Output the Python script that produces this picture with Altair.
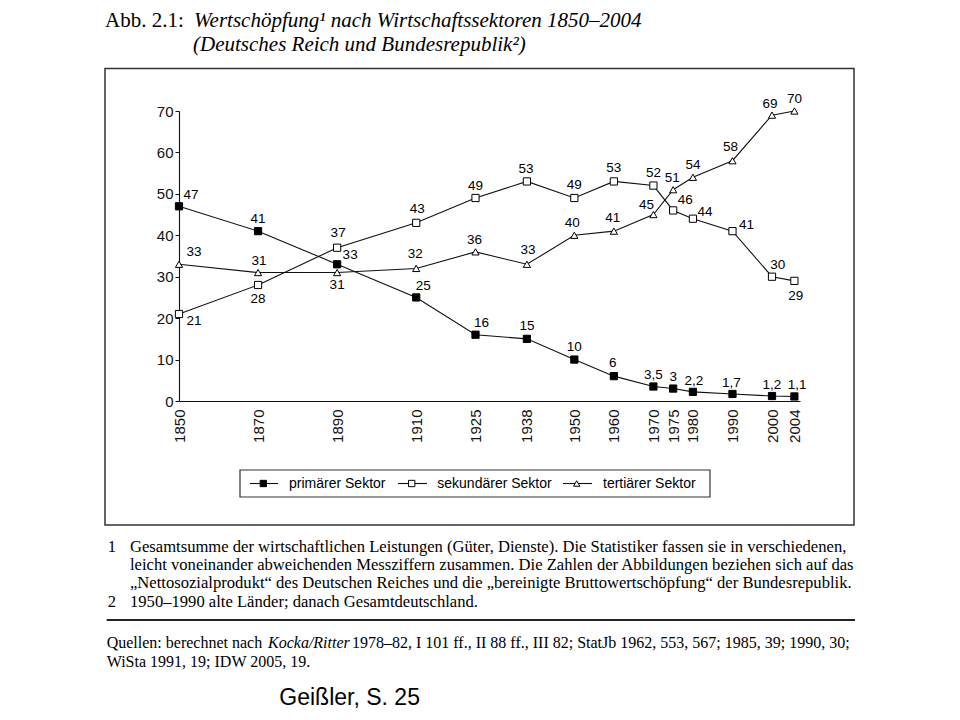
import altair as alt
import pandas as pd

# ---------------- data ----------------
years = [1850, 1870, 1890, 1910, 1925, 1938, 1950, 1960, 1970, 1975, 1980, 1990, 2000, 2004]
primaer = [47, 41, 33, 25, 16, 15, 10, 6, 3.5, 3, 2.2, 1.7, 1.2, 1.1]
sekundaer = [21, 28, 37, 43, 49, 53, 49, 53, 52, 46, 44, 41, 30, 29]
tertiaer = [33, 31, 31, 32, 36, 33, 40, 41, 45, 51, 54, 58, 69, 70]
sectors = ["primärer Sektor", "sekundärer Sektor", "tertiärer Sektor"]
y_ticks = [0, 10, 20, 30, 40, 50, 60, 70]

# label placement (pixel offsets of each value label from its point)
off_primaer = [(12, -11), (0, -12), (13, -9), (7, -11), (6, -12), (0, -13), (0, -13),
               (-1, -13), (0, -12), (0, -12), (1, -11), (-1, -11), (0, -11), (2, -11)]
off_sekundaer = [(15, 7), (0, 14), (1, -15), (1, -14), (0, -12), (-1, -12), (0, -13),
                 (0, -13), (0, -13), (12, -10), (12, -7), (14, -6), (4, -12), (1, 15)]
off_tertiaer = [(15, -12), (1, -12), (0, 12), (-1, -14), (-1, -12), (1, -14), (-2, -12),
                (-1, -13), (-7, -10), (-1, -12), (0, -12), (-2, -14), (-2, -11), (0, -12)]

W, H = 621, 290
# the original's time axis is stretched slightly after 2000
X_DOM = [1850, 2000, 2005]
X_RNG = [0, 593, 621]
Y_DOM = [0, 70]


def fmt(v):
    return str(int(v)) if float(v).is_integer() else str(v).replace(".", ",")


rows = []
for name, vals, offs in zip(sectors, [primaer, sekundaer, tertiaer],
                            [off_primaer, off_sekundaer, off_tertiaer]):
    for yr, v, (dx, dy) in zip(years, vals, offs):
        rows.append({"sector": name, "year": yr, "value": v, "label": fmt(v),
                     "dx": dx, "dy": dy})
df = pd.DataFrame(rows)

SANS = "Liberation Sans"
SERIF = "Liberation Serif"
INK = "#111111"

x_enc = alt.X("year:Q", scale=alt.Scale(domain=X_DOM, range=X_RNG, nice=False, zero=False),
              axis=alt.Axis(values=years, labelAngle=270, ticks=False, title=None,
                            labelFontSize=15, labelPadding=8, grid=False,
                            labelFlush=False, labelOverlap=False, format="d"))
y_enc = alt.Y("value:Q", scale=alt.Scale(domain=Y_DOM, nice=False),
              axis=alt.Axis(values=y_ticks, title=None, labelFontSize=15, tickSize=4,
                            labelPadding=2, grid=False, labelFlush=False))

base = alt.Chart(df)
lines = base.mark_line(color=INK, strokeWidth=1.1).encode(x=x_enc, y=y_enc, detail="sector:N")
points = base.mark_point(filled=True, stroke="black", strokeWidth=1, opacity=1, size=52).encode(
    x="year:Q", y="value:Q",
    fill=alt.Fill("sector:N", scale=alt.Scale(domain=sectors, range=["black", "white", "white"]), legend=None),
    shape=alt.Shape("sector:N", scale=alt.Scale(domain=sectors, range=["square", "square", "triangle-up"]), legend=None),
)
xk = (X_DOM[1] - X_DOM[0]) / (X_RNG[1] - X_RNG[0])
yk = (Y_DOM[1] - Y_DOM[0]) / H
labels = base.transform_calculate(
    lx=f"datum.year + datum.dx * {xk}",
    ly=f"datum.value - datum.dy * {yk}",
).mark_text(font=SANS, fontSize=13.5, color="black", baseline="middle").encode(
    x="lx:Q", y="ly:Q", text="label:N",
)

one = pd.DataFrame({"a": [0]})

# frame around the figure
frame = alt.Chart(one).mark_rect(fill="transparent", stroke="#333", strokeWidth=1.5).encode(
    x=alt.value(-74), x2=alt.value(675), y=alt.value(-42.5), y2=alt.value(414))

# legend box
leg_box = alt.Chart(one).mark_rect(fill="transparent", stroke="#333", strokeWidth=1.2).encode(
    x=alt.value(61), x2=alt.value(531), y=alt.value(359), y2=alt.value(386))
leg = pd.DataFrame({
    "sector": sectors,
    "x1": [71, 219, 384], "x2": [99, 248, 413], "xm": [84.3, 232.7, 397.7],
    "xt": [110, 258.3, 424], "yy": [372.5, 372.5, 372.5],
})
leg_rules = alt.Chart(leg).mark_rule(color=INK, strokeWidth=1.1).encode(
    x=alt.X("x1:Q", scale=None), x2="x2:Q", y=alt.Y("yy:Q", scale=None))
leg_pts = alt.Chart(leg).mark_point(filled=True, stroke="black", strokeWidth=1, opacity=1, size=40).encode(
    x=alt.X("xm:Q", scale=None), y=alt.Y("yy:Q", scale=None),
    fill=alt.Fill("sector:N", scale=alt.Scale(domain=sectors, range=["black", "white", "white"]), legend=None),
    shape=alt.Shape("sector:N", scale=alt.Scale(domain=sectors, range=["square", "square", "triangle-up"]), legend=None),
)
leg_txt = alt.Chart(leg).mark_text(font=SANS, fontSize=14, color="black", align="left", baseline="middle").encode(
    x=alt.X("xt:Q", scale=None), y=alt.Y("yy:Q", scale=None), text="sector:N")

# title and notes (pixel positions relative to plot origin)
serif_plain = pd.DataFrame({
    "text": ["Abb. 2.1:", "1", "2",
             "Gesamtsumme der wirtschaftlichen Leistungen (Güter, Dienste). Die Statistiker fassen sie in verschiedenen,",
             "leicht voneinander abweichenden Messziffern zusammen. Die Zahlen der Abbildungen beziehen sich auf das",
             "„Nettosozialprodukt“ des Deutschen Reiches und die „bereinigte Bruttowertschöpfung“ der Bundesrepublik.",
             "1950–1990 alte Länder; danach Gesamtdeutschland.",
             "Quellen: berechnet nach",
             "1978–82, I 101 ff., II 88 ff., III 82; StatJb 1962, 553, 567; 1985, 39; 1990, 30;",
             "WiSta 1991, 19; IDW 2005, 19."],
    "px": [-74, -71.3, -71.3, -49, -49, -49, -49, -72.3, 173, -72.3],
    "py": [-84.5, 441, 496, 441, 459, 477, 496, 537, 537, 555.5],
    "fs": [21, 16.6, 16.6, 16.6, 16.6, 16.6, 16.6, 16, 16, 16],
})
serif_italic = pd.DataFrame({
    "text": ["Wertschöpfung¹ nach Wirtschaftssektoren 1850–2004",
             "(Deutsches Reich und Bundesrepublik²)",
             "Kocka/Ritter"],
    "px": [15, 14, 89],
    "py": [-84.5, -60.5, 537],
    "fs": [21, 21, 16],
})
t_plain = alt.Chart(serif_plain).mark_text(font=SERIF, color="black", align="left", baseline="alphabetic").encode(
    x=alt.X("px:Q", scale=None), y=alt.Y("py:Q", scale=None), text="text:N",
    size=alt.Size("fs:Q", scale=None))
t_ital = alt.Chart(serif_italic).mark_text(font=SERIF, fontStyle="italic", color="black", align="left",
                                          baseline="alphabetic").encode(
    x=alt.X("px:Q", scale=None), y=alt.Y("py:Q", scale=None), text="text:N",
    size=alt.Size("fs:Q", scale=None))
rule_notes = alt.Chart(one).mark_rule(color="#222", strokeWidth=2).encode(
    x=alt.value(-72.3), x2=alt.value(676), y=alt.value(509))
credit = alt.Chart(one).mark_text(font=SANS, fontSize=23, color="black", align="left",
                                  baseline="alphabetic", text="Geißler, S. 25").encode(
    x=alt.value(100.3), y=alt.value(594))

chart = alt.layer(
    frame, lines, points, labels, leg_box, leg_rules, leg_pts, leg_txt,
    t_plain, t_ital, rule_notes, credit
).properties(
    width=W, height=H,
    autosize=alt.AutoSizeParams(type="none"),
    padding={"left": 171, "top": 103, "right": 152, "bottom": 311},
    background="white",
).configure_view(strokeWidth=0).configure_axis(
    labelFont=SANS, labelColor=INK, domainColor=INK, tickColor=INK, domainWidth=1.1
)

chart.save("out.html", embed_options={"renderer": "svg", "actions": False})
